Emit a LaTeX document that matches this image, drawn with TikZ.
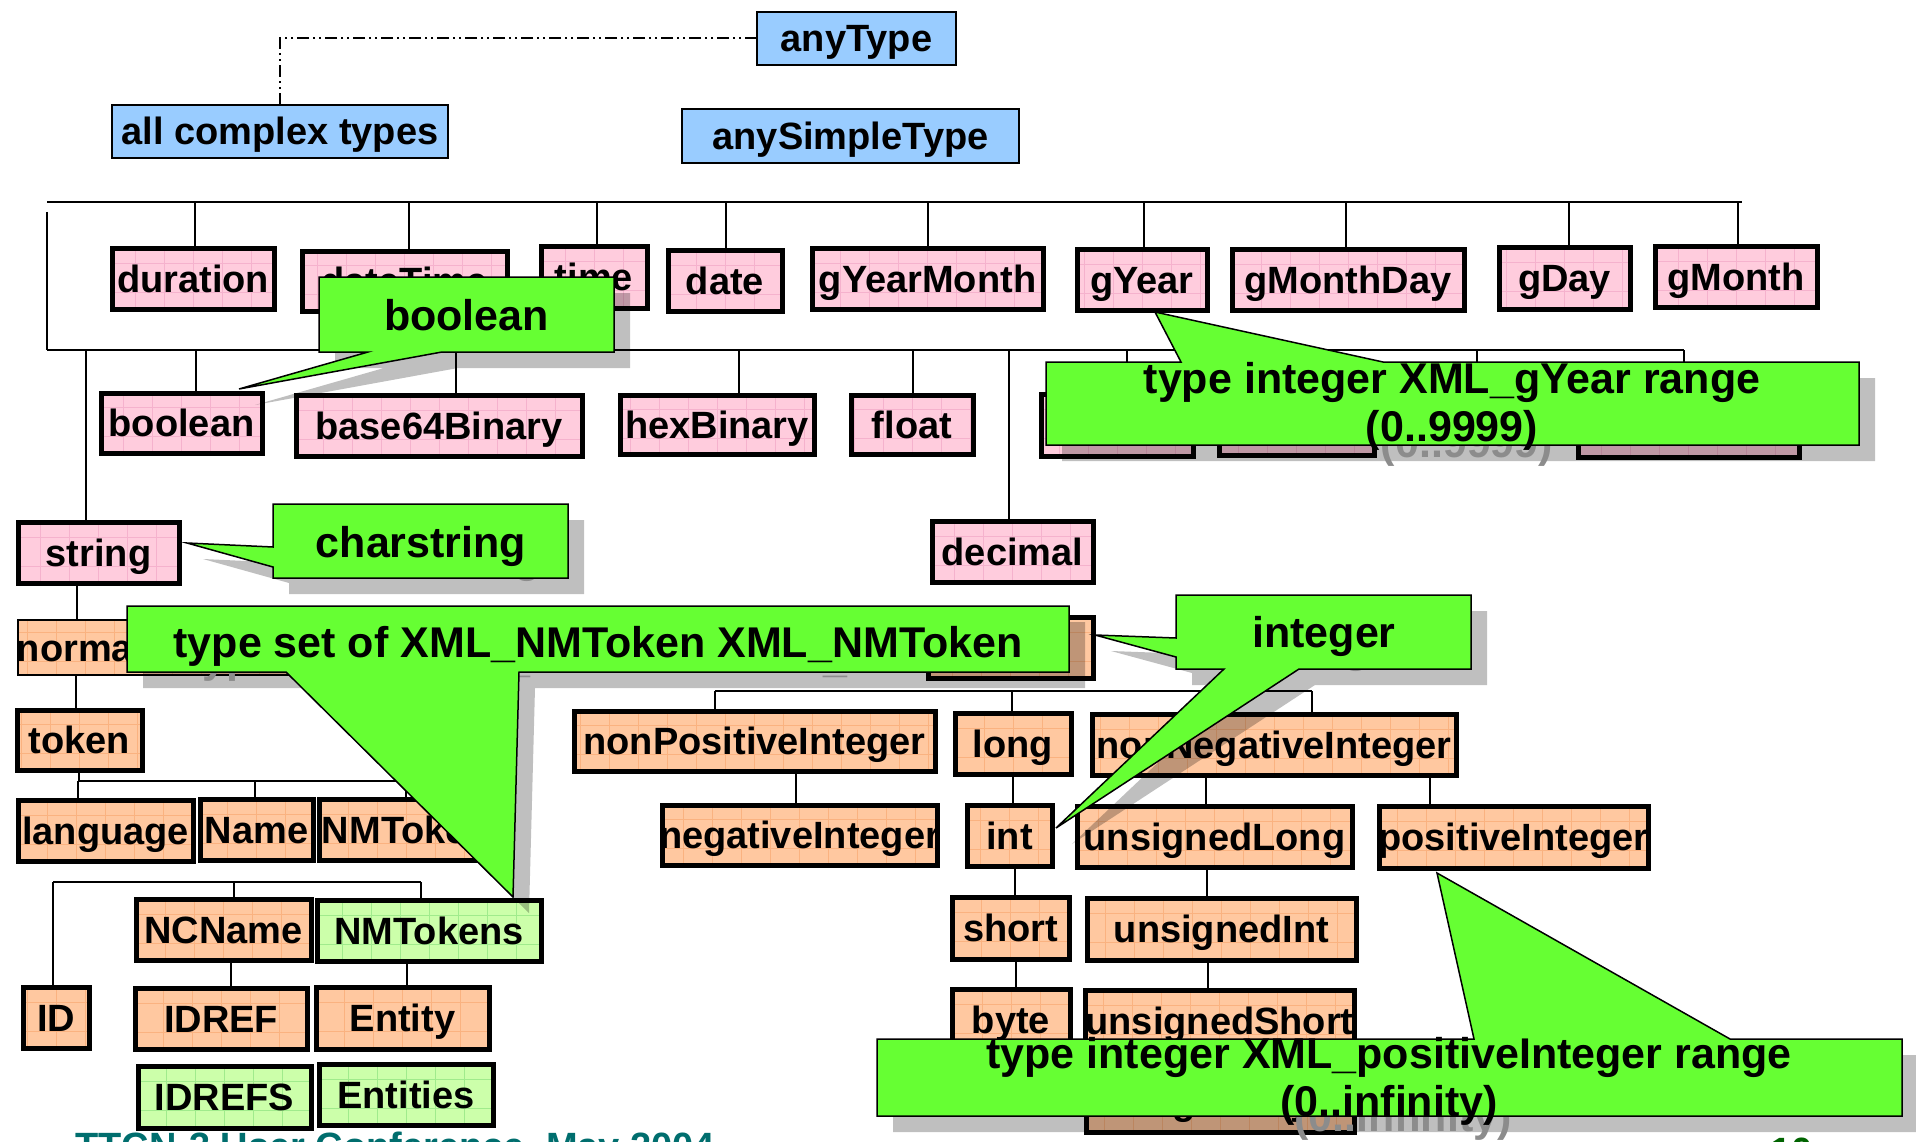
\documentclass[tikz,border=0pt]{standalone}
\usepackage{fontspec}
\setmainfont{Liberation Sans}
\usetikzlibrary{calc}
\definecolor{boxblue}{RGB}{153,204,255}
\definecolor{boxpink}{RGB}{255,204,221}
\definecolor{gridpink}{RGB}{245,178,205}
\definecolor{boxorange}{RGB}{255,200,160}
\definecolor{gridorange}{RGB}{250,178,128}
\definecolor{boxgreen}{RGB}{204,255,170}
\definecolor{gridgreen}{RGB}{160,235,140}
\definecolor{callgreen}{RGB}{102,255,51}
\definecolor{footteal}{RGB}{0,110,110}
\definecolor{footgreen}{RGB}{0,100,0}
\tikzset{
  conn/.style={draw=black, line width=1.5pt},
  bus/.style={draw=black, line width=2.5pt},
  basebox/.style={draw=black, line width=5pt, inner sep=0pt, outer sep=0pt,
    text height=27pt, text depth=0pt, font=\fontsize{38}{40}\selectfont\bfseries},
  gridded/.style={path picture={\draw[#1, line width=0.6pt, step=29pt]
    (path picture bounding box.south west) grid (path picture bounding box.north east);}},
  pinkbox/.style={basebox, fill=boxpink, gridded=gridpink},
  orangebox/.style={basebox, fill=boxorange, gridded=gridorange},
  thinorange/.style={orangebox, line width=1.5pt},
  greenbox/.style={basebox, fill=boxgreen, gridded=gridgreen},
  bluebox/.style={basebox, fill=boxblue, line width=2.5pt},
  calloutshape/.style={fill=callgreen, draw=black, line width=1.5pt, line join=miter},
  shade/.style={fill=black, opacity=0.25},
  calltext/.style={font=\fontsize{43}{48}\selectfont\bfseries, inner sep=0pt, anchor=base},
  shadowtext/.style={calltext, text=black!45},
  dashdotdot/.style={draw=black, line width=2pt, dash pattern=on 12pt off 4pt on 2pt off 4pt on 2pt off 4pt},
  foot/.style={font=\fontsize{38}{40}\selectfont\bfseries, inner sep=0pt}
}
% box: style, name, x1, y1, x2, y2, text
\newcommand\bx[7]{\node[#1, minimum width={#5-#3-4}, minimum height={#6-#4-4}] (#2) at ({(#3+#5)/2},{(#4+#6)/2}) {\makebox[0pt]{#7}};}
% vertical connector at absolute x between two anchors
\newcommand\vc[3]{\coordinate (vx) at (#3,0); \draw[conn] (#1 -| vx) -- (#2 -| vx);}
\begin{document}
\begin{tikzpicture}[x=1pt,y=-1pt]
\useasboundingbox (0,0) rectangle (1916,1142);
\fill[white] (0,0) rectangle (1916,1142);
\clip (0,0) rectangle (1916,1142);

% ---------- blue boxes ----------
\bx{bluebox}{anyType}{755}{10}{958}{67}{anyType}
\bx{bluebox}{act}{110}{103}{450}{160}{all complex types}
\bx{bluebox}{anySimple}{680}{107}{1021}{165}{anySimpleType}

% ---------- pink row 1 ----------
\bx{pinkbox}{duration}{110}{246}{276}{311}{duration}
\bx{pinkbox}{dateTime}{300}{249}{509}{313}{dateTime}
\bx{pinkbox}{time}{539}{244}{649}{310}{time}
\bx{pinkbox}{date}{666}{248}{784}{313}{date}
\bx{pinkbox}{gYearMonth}{810}{246}{1045}{311}{gYearMonth}
\bx{pinkbox}{gYear}{1075}{247}{1209}{312}{gYear}
\bx{pinkbox}{gMonthDay}{1230}{247}{1466}{312}{gMonthDay}
\bx{pinkbox}{gDay}{1497}{245}{1632}{311}{gDay}
\bx{pinkbox}{gMonth}{1653}{244}{1819}{309}{gMonth}

% ---------- pink row 2 ----------
\bx{pinkbox}{boolean}{99}{391}{264}{455}{boolean}
\bx{pinkbox}{base64}{294}{393}{584}{458}{base64Binary}
\bx{pinkbox}{hexBinary}{618}{393}{816}{456}{hexBinary}
\bx{pinkbox}{float}{849}{393}{975}{456}{float}
\bx{pinkbox}{hidA}{1039}{392}{1195}{458}{}
\bx{pinkbox}{hidB}{1217}{392}{1376}{457}{}
\bx{pinkbox}{hidC}{1576}{392}{1801}{459}{}
\bx{pinkbox}{string}{16}{520}{181}{585}{string}
\bx{pinkbox}{decimal}{930}{519}{1095}{584}{decimal}

% ---------- orange / green boxes left ----------
\bx{thinorange}{norm}{16}{618}{328}{677}{normalizedString}
\bx{orangebox}{integerbox}{926}{615}{1095}{680}{}
\bx{orangebox}{token}{15}{708}{144}{772}{token}
\bx{orangebox}{language}{16}{798}{195}{863}{language}
\bx{orangebox}{Name}{198}{797}{315}{862}{Name}
\bx{orangebox}{NMToken}{317}{797}{495}{862}{NMToken}
\bx{orangebox}{NCName}{134}{897}{313}{962}{NCName}
\bx{greenbox}{NMTokens}{315}{898}{543}{963}{NMTokens}
\bx{orangebox}{ID}{21}{985}{91}{1050}{ID}
\bx{orangebox}{IDREF}{133}{986}{309}{1051}{IDREF}
\bx{orangebox}{Entity}{314}{985}{491}{1051}{Entity}
\bx{greenbox}{IDREFS}{136}{1064}{313}{1130}{IDREFS}
\bx{greenbox}{Entities}{317}{1062}{495}{1127}{Entities}

% ---------- orange boxes right ----------
\bx{orangebox}{nonPos}{572}{709}{937}{773}{nonPositiveInteger}
\bx{orangebox}{long}{953}{711}{1073}{776}{long}
\bx{orangebox}{nonNeg}{1090}{712}{1458}{777}{nonNegativeInteger}
\bx{orangebox}{negInt}{660}{803}{939}{867}{negativeInteger}
\bx{orangebox}{int}{965}{803}{1054}{868}{int}
\bx{orangebox}{uLong}{1075}{804}{1354}{869}{unsignedLong}
\bx{orangebox}{posInt}{1377}{804}{1650}{870}{positiveInteger}
\bx{orangebox}{short}{950}{895}{1071}{961}{short}
\bx{orangebox}{uInt}{1085}{896}{1358}{962}{unsignedInt}
\bx{orangebox}{byte}{950}{987}{1072}{1053}{byte}
\bx{orangebox}{uShort}{1083}{988}{1356}{1054}{unsignedShort}
\bx{orangebox}{uByte}{1084}{1068}{1356}{1134}{unsignedByte}

% ---------- connectors ----------
\draw[dashdotdot] (anyType.west) -| (act.north);

\coordinate (bus1a) at (47,202);
\coordinate (bus1b) at (1742,202);
\coordinate (bus2a) at (47,350);
\coordinate (bus2b) at (1684,350);
\draw[bus] (bus1a) -- (bus1b);
\draw[conn] ([yshift=-10pt]bus1a) -- (bus2a);
\draw[bus, line width=2pt] (bus2a) -- (bus2b);
\vc{bus1a}{duration.north}{195}
\vc{bus1a}{dateTime.north}{409}
\vc{bus1a}{time.north}{597}
\vc{bus1a}{date.north}{726}
\vc{bus1a}{gYearMonth.north}{928}
\vc{bus1a}{gYear.north}{1144}
\vc{bus1a}{gMonthDay.north}{1346}
\vc{bus1a}{gDay.north}{1569}
\vc{bus1a}{gMonth.north}{1738}

\vc{bus2a}{string.north}{86}
\vc{bus2a}{boolean.north}{196}
\vc{bus2a}{base64.north}{456}
\vc{bus2a}{hexBinary.north}{739}
\vc{bus2a}{float.north}{913}
\vc{bus2a}{decimal.north}{1009}
\vc{bus2a}{hidA.north}{1127}
\vc{bus2a}{hidB.north}{1296}
\vc{bus2a}{hidC.north}{1684}
\coordinate (tk) at (1477,370);
\draw[conn] (bus2a -| tk) -- (tk);

\vc{string.south}{norm.north}{77}
\vc{norm.south}{token.north}{76}
\coordinate (bus3a) at (78,781);
\coordinate (bus3b) at (406,781);
\draw[conn, line width=2pt] (bus3a) -- (bus3b);
\vc{token.south}{bus3a}{79}
\vc{bus3a}{language.north}{78}
\vc{bus3a}{Name.north}{255}
\vc{bus3a}{NMToken.north}{406}
\coordinate (bus4a) at (53,882);
\coordinate (bus4b) at (421,882);
\draw[conn, line width=2pt] (bus4a) -- (bus4b);
\vc{bus4a}{ID.north}{53}
\vc{bus4a}{NCName.north}{234}
\vc{bus4a}{NMTokens.north}{421}
\vc{NCName.south}{IDREF.north}{231}
\vc{NMTokens.south}{Entity.north}{407}

\coordinate (bus5a) at (715,691);
\coordinate (bus5b) at (1312,691);
\draw[conn, line width=2pt] (bus5a) -- (bus5b);
\vc{bus5a}{nonPos.north}{715}
\vc{bus5a}{long.north}{1012}
\vc{bus5a}{nonNeg.north}{1312}
\vc{nonPos.south}{negInt.north}{796}
\vc{long.south}{int.north}{1013}
\vc{nonNeg.south}{uLong.north}{1206}
\vc{nonNeg.south}{posInt.north}{1430}
\vc{int.south}{short.north}{1015}
\vc{uLong.south}{uInt.north}{1207}
\vc{short.south}{byte.north}{1016}
\vc{uInt.south}{uShort.north}{1208}

% ---------- callouts ----------
% boolean
\fill[shade, shift={(16,16)}] (319,277) -- (614,277) -- (614,352) -- (442,352) -- (239,389) -- (368,352) -- (319,352) -- cycle;
\node[shadowtext] at (481.5,345) {boolean};
\filldraw[calloutshape] (319,277) -- (614,277) -- (614,352) -- (442,352) -- (239,389) -- (368,352) -- (319,352) -- cycle;
\node[calltext] (cBoolean) at (466.5,330) {boolean};

% charstring
\fill[shade, shift={(16,16)}] (273,504) -- (568,504) -- (568,578) -- (273,578) -- (273,567) -- (187,543) -- (273,547) -- cycle;
\node[shadowtext] at (436,572) {charstring};
\filldraw[calloutshape] (273,504) -- (568,504) -- (568,578) -- (273,578) -- (273,567) -- (187,543) -- (273,547) -- cycle;
\node[calltext] (cChar) at (421,557) {charstring};

% gYear
\fill[shade, shift={(16,16)}] (1046,362) -- (1181,362) -- (1155,312) -- (1383,362) -- (1859,362) -- (1859,445) -- (1046,445) -- cycle;
\node[shadowtext] at (1467,408) {type integer XML\_gYear range};
\node[shadowtext] at (1467,457) {(0..9999)};
\filldraw[calloutshape] (1046,362) -- (1181,362) -- (1155,312) -- (1383,362) -- (1859,362) -- (1859,445) -- (1046,445) -- cycle;
\node[calltext] (cYear1) at (1452,393) {type integer XML\_gYear range};
\node[calltext] (cYear2) at (1452,441) {(0..9999)};

% set of NMToken
\fill[shade, shift={(16,16)}] (127,606) -- (1069,606) -- (1069,672) -- (519,672) -- (513,897) -- (286,672) -- (127,672) -- cycle;
\node[shadowtext] at (613,672) {type set of XML\_NMToken XML\_NMToken};
\filldraw[calloutshape] (127,606) -- (1069,606) -- (1069,672) -- (519,672) -- (513,897) -- (286,672) -- (127,672) -- cycle;
\node[calltext] (cSet) at (598,657) {type set of XML\_NMToken XML\_NMToken};

% integer
\fill[shade, shift={(16,16)}] (1176,595) -- (1471,595) -- (1471,669) -- (1299,669) -- (1056,828) -- (1224,669) -- (1176,669) -- (1176,657) -- (1095,635) -- (1176,638) -- cycle;
\node[shadowtext] at (1339,662) {integer};
\filldraw[calloutshape] (1176,595) -- (1471,595) -- (1471,669) -- (1299,669) -- (1056,828) -- (1224,669) -- (1176,669) -- (1176,657) -- (1095,635) -- (1176,638) -- cycle;
\node[calltext] (cInt) at (1324,647) {integer};

% positiveInteger
\fill[shade, shift={(16,16)}] (877,1039) -- (1474,1039) -- (1437,873) -- (1730,1039) -- (1902,1039) -- (1902,1116) -- (877,1116) -- cycle;
\node[shadowtext] at (1403,1082) {type integer XML\_positiveInteger range};
\node[shadowtext] at (1403,1131) {(0..infinity)};
\filldraw[calloutshape] (877,1039) -- (1474,1039) -- (1437,873) -- (1730,1039) -- (1902,1039) -- (1902,1116) -- (877,1116) -- cycle;
\node[calltext] (cPos1) at (1389,1068) {type integer XML\_positiveInteger range};
\node[calltext] (cPos2) at (1389,1116) {(0..infinity)};

% ---------- footer ----------
\node[foot, text=footteal, anchor=base west] (footer) at (75,1159) {TTCN-3 User Conference, May 2004};
\node[foot, text=footgreen, anchor=base west] (pageno) at (1770,1164) {10};
\end{tikzpicture}
\end{document}
